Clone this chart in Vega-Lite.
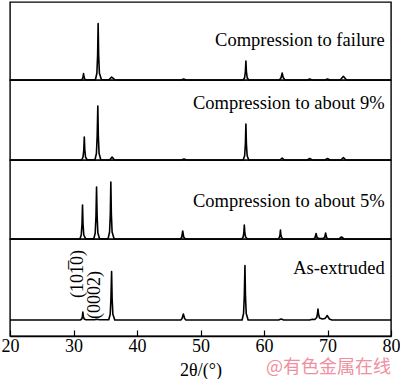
{
  "$schema": "https://vega.github.io/schema/vega-lite/v6.json",
  "padding": {"left": 0, "top": 1, "right": 0, "bottom": 0},
  "spacing": 0,
  "bounds": "flush",
  "resolve": {"scale": {"x": "independent", "y": "independent"}},
  "config": {
    "font": "Liberation Serif",
    "view": {"stroke": "#000000", "strokeWidth": 1.4},
    "line": {"color": "#000000", "strokeWidth": 1.6, "strokeJoin": "round"},
    "text": {"font": "Liberation Serif", "fontSize": 18.5, "color": "#000000"}
  },
  "datasets": {
    "one": [{"k": 1}],
    "failure": [
      {"x": 20, "y": 0},
      {"x": 31.15, "y": 0}, {"x": 31.38, "y": 0.8}, {"x": 31.5, "y": 2.9}, {"x": 31.58, "y": 6.5}, {"x": 31.66, "y": 2.9}, {"x": 31.78, "y": 0.8}, {"x": 32.0, "y": 0.3},
      {"x": 33.45, "y": 0.3}, {"x": 33.68, "y": 6.8}, {"x": 33.8, "y": 25}, {"x": 33.88, "y": 56.5}, {"x": 33.96, "y": 25}, {"x": 34.08, "y": 6.8}, {"x": 34.4, "y": 0.5},
      {"x": 35.6, "y": 0.2}, {"x": 36.0, "y": 3}, {"x": 36.5, "y": 0.3}, {"x": 37.2, "y": 0},
      {"x": 46.95, "y": 0}, {"x": 47.35, "y": 1}, {"x": 47.75, "y": 0},
      {"x": 56.72, "y": 0}, {"x": 56.95, "y": 2.3}, {"x": 57.07, "y": 8.5}, {"x": 57.15, "y": 19}, {"x": 57.23, "y": 8.5}, {"x": 57.35, "y": 2.3}, {"x": 57.6, "y": 0},
      {"x": 62.45, "y": 0}, {"x": 62.7, "y": 2.5}, {"x": 62.86, "y": 7}, {"x": 63.02, "y": 2.5}, {"x": 63.3, "y": 0},
      {"x": 66.8, "y": 0}, {"x": 67.2, "y": 1}, {"x": 67.6, "y": 0},
      {"x": 69.6, "y": 0}, {"x": 70.0, "y": 1}, {"x": 70.4, "y": 0},
      {"x": 72.0, "y": 0}, {"x": 72.5, "y": 3.7}, {"x": 73.0, "y": 0},
      {"x": 80, "y": 0}
    ],
    "p9": [
      {"x": 20, "y": 0},
      {"x": 31.27, "y": 0}, {"x": 31.5, "y": 2.8}, {"x": 31.62, "y": 10}, {"x": 31.7, "y": 23}, {"x": 31.78, "y": 10}, {"x": 31.9, "y": 2.8}, {"x": 32.15, "y": 0.3},
      {"x": 33.38, "y": 0.3}, {"x": 33.61, "y": 6.5}, {"x": 33.73, "y": 24}, {"x": 33.83, "y": 54}, {"x": 33.91, "y": 24}, {"x": 34.03, "y": 6.5}, {"x": 34.3, "y": 0.3},
      {"x": 35.7, "y": 0}, {"x": 36.08, "y": 3}, {"x": 36.45, "y": 0},
      {"x": 47.0, "y": 0}, {"x": 47.4, "y": 1}, {"x": 47.8, "y": 0},
      {"x": 56.72, "y": 0}, {"x": 56.95, "y": 4.3}, {"x": 57.07, "y": 16}, {"x": 57.15, "y": 36}, {"x": 57.23, "y": 16}, {"x": 57.35, "y": 4.3}, {"x": 57.6, "y": 0},
      {"x": 62.5, "y": 0}, {"x": 62.86, "y": 2}, {"x": 63.2, "y": 0},
      {"x": 66.8, "y": 0}, {"x": 67.2, "y": 1.5}, {"x": 67.6, "y": 0},
      {"x": 69.6, "y": 0}, {"x": 70.0, "y": 1.5}, {"x": 70.4, "y": 0},
      {"x": 72.1, "y": 0}, {"x": 72.5, "y": 2.5}, {"x": 72.9, "y": 0},
      {"x": 80, "y": 0}
    ],
    "p5": [
      {"x": 20, "y": 0},
      {"x": 31.0, "y": 0}, {"x": 31.22, "y": 4}, {"x": 31.34, "y": 15}, {"x": 31.42, "y": 34}, {"x": 31.5, "y": 15}, {"x": 31.62, "y": 4}, {"x": 31.9, "y": 0.3},
      {"x": 33.2, "y": 0.3}, {"x": 33.42, "y": 6}, {"x": 33.54, "y": 23}, {"x": 33.63, "y": 52}, {"x": 33.72, "y": 23}, {"x": 33.84, "y": 6}, {"x": 34.1, "y": 0.3},
      {"x": 35.45, "y": 0.3}, {"x": 35.68, "y": 7}, {"x": 35.8, "y": 25}, {"x": 35.88, "y": 57}, {"x": 35.96, "y": 25}, {"x": 36.08, "y": 7}, {"x": 36.4, "y": 0},
      {"x": 46.85, "y": 0}, {"x": 47.05, "y": 2}, {"x": 47.2, "y": 8}, {"x": 47.35, "y": 2}, {"x": 47.6, "y": 0},
      {"x": 56.5, "y": 0}, {"x": 56.72, "y": 2}, {"x": 56.82, "y": 6}, {"x": 56.9, "y": 14}, {"x": 56.98, "y": 6}, {"x": 57.1, "y": 2}, {"x": 57.4, "y": 0},
      {"x": 62.2, "y": 0}, {"x": 62.42, "y": 1.5}, {"x": 62.52, "y": 4}, {"x": 62.59, "y": 9}, {"x": 62.66, "y": 4}, {"x": 62.78, "y": 1.5}, {"x": 63.0, "y": 0},
      {"x": 67.8, "y": 0}, {"x": 68.05, "y": 1.5}, {"x": 68.2, "y": 5.5}, {"x": 68.35, "y": 1.5}, {"x": 68.6, "y": 0.5},
      {"x": 69.25, "y": 0.5}, {"x": 69.55, "y": 1.5}, {"x": 69.7, "y": 6}, {"x": 69.85, "y": 1.5}, {"x": 70.1, "y": 0},
      {"x": 71.8, "y": 0}, {"x": 72.2, "y": 2}, {"x": 72.6, "y": 0},
      {"x": 80, "y": 0}
    ],
    "ext": [
      {"x": 20, "y": 0},
      {"x": 31.05, "y": 0}, {"x": 31.3, "y": 1}, {"x": 31.4, "y": 3.6}, {"x": 31.47, "y": 8}, {"x": 31.55, "y": 3.6}, {"x": 31.68, "y": 1}, {"x": 31.95, "y": 0.3},
      {"x": 33.3, "y": 0.3}, {"x": 33.7, "y": 0.8}, {"x": 34.1, "y": 0.3},
      {"x": 35.55, "y": 0.3}, {"x": 35.78, "y": 5.8}, {"x": 35.9, "y": 22}, {"x": 36.0, "y": 48.5}, {"x": 36.08, "y": 22}, {"x": 36.2, "y": 5.8}, {"x": 36.5, "y": 0},
      {"x": 46.9, "y": 0}, {"x": 47.1, "y": 1.5}, {"x": 47.3, "y": 6}, {"x": 47.5, "y": 1.5}, {"x": 47.7, "y": 0},
      {"x": 56.55, "y": 0}, {"x": 56.78, "y": 6.5}, {"x": 56.9, "y": 24.5}, {"x": 57.0, "y": 54.5}, {"x": 57.08, "y": 24.5}, {"x": 57.2, "y": 6.5}, {"x": 57.5, "y": 0},
      {"x": 62.3, "y": 0}, {"x": 62.7, "y": 1}, {"x": 63.1, "y": 0},
      {"x": 67.2, "y": 0}, {"x": 67.6, "y": 0.8}, {"x": 68.0, "y": 0.5}, {"x": 68.3, "y": 2.5}, {"x": 68.42, "y": 6}, {"x": 68.5, "y": 11}, {"x": 68.58, "y": 6}, {"x": 68.75, "y": 2},
      {"x": 69.2, "y": 1}, {"x": 69.6, "y": 1.5}, {"x": 69.85, "y": 3.5}, {"x": 69.95, "y": 4.5}, {"x": 70.05, "y": 3.5}, {"x": 70.3, "y": 1}, {"x": 70.7, "y": 0},
      {"x": 80, "y": 0}
    ]
  },
  "vconcat": [
    {
      "width": 381, "height": 78,
      "layer": [
        {"data": {"name": "failure"}, "mark": "line", "encoding": {
          "x": {"field": "x", "type": "quantitative", "scale": {"domain": [20, 80], "nice": false}, "axis": null},
          "y": {"field": "y", "type": "quantitative", "scale": {"domain": [0, 78], "nice": false, "zero": false}, "axis": null}}},
        {"data": {"name": "one"}, "mark": {"type": "text", "text": "Compression to failure", "align": "right", "baseline": "alphabetic", "font": "Liberation Serif, Times New Roman, serif"},
         "encoding": {"x": {"datum": 79}, "y": {"datum": 34}}}
      ]
    },
    {
      "width": 381, "height": 80,
      "layer": [
        {"data": {"name": "p9"}, "mark": "line", "encoding": {
          "x": {"field": "x", "type": "quantitative", "scale": {"domain": [20, 80], "nice": false}, "axis": null},
          "y": {"field": "y", "type": "quantitative", "scale": {"domain": [0, 80], "nice": false, "zero": false}, "axis": null}}},
        {"data": {"name": "one"}, "mark": {"type": "text", "text": "Compression to about 9%", "align": "right", "baseline": "alphabetic", "font": "Liberation Serif, Times New Roman, serif"},
         "encoding": {"x": {"datum": 79}, "y": {"datum": 51}}}
      ]
    },
    {
      "width": 381, "height": 79,
      "layer": [
        {"data": {"name": "p5"}, "mark": "line", "encoding": {
          "x": {"field": "x", "type": "quantitative", "scale": {"domain": [20, 80], "nice": false}, "axis": null},
          "y": {"field": "y", "type": "quantitative", "scale": {"domain": [0, 79], "nice": false, "zero": false}, "axis": null}}},
        {"data": {"name": "one"}, "mark": {"type": "text", "text": "Compression to about 5%", "align": "right", "baseline": "alphabetic", "font": "Liberation Serif, Times New Roman, serif"},
         "encoding": {"x": {"datum": 79}, "y": {"datum": 32.5}}}
      ]
    },
    {
      "width": 381, "height": 97,
      "layer": [
        {"data": {"name": "ext"}, "mark": "line", "encoding": {
          "x": {"field": "x", "type": "quantitative", "scale": {"domain": [20, 80], "nice": false},
                "axis": {"title": "2θ/(°)", "values": [20, 30, 40, 50, 60, 70, 80], "grid": false, "tickSize": -6, "tickColor": "#000000", "tickWidth": 1.2, "domainColor": "#000000", "domainWidth": 1.4, "labelFont": "Liberation Serif, Times New Roman, serif", "labelFontSize": 18, "labelColor": "#000000", "labelPadding": 7, "labelFlush": false, "titleFont": "Liberation Serif, Times New Roman, serif", "titleFontSize": 18, "titleFontWeight": "normal", "titleColor": "#000000", "titlePadding": 6}},
          "y": {"field": "y", "type": "quantitative", "scale": {"domain": [-16, 81], "nice": false, "zero": false}, "axis": null}}},
        {"data": {"name": "one"}, "mark": {"type": "text", "text": "As-extruded", "align": "right", "baseline": "alphabetic", "font": "Liberation Serif, Times New Roman, serif"},
         "encoding": {"x": {"datum": 79}, "y": {"datum": 45.7}}},
        {"data": {"name": "one"}, "mark": {"type": "text", "text": "(101̅0)", "angle": 270, "align": "center", "baseline": "middle", "fontSize": 18, "font": "Liberation Serif, Times New Roman, serif"},
         "encoding": {"x": {"datum": 30.75}, "y": {"datum": 46}}},
        {"data": {"name": "one"}, "mark": {"type": "text", "text": "(0002)", "angle": 270, "align": "center", "baseline": "middle", "fontSize": 18, "font": "Liberation Serif, Times New Roman, serif"},
         "encoding": {"x": {"datum": 33.4}, "y": {"datum": 25}}},
        {"data": {"name": "one"}, "mark": {"type": "text", "text": "@有色金属在线", "align": "right", "baseline": "middle", "font": "Noto Sans CJK SC", "fontSize": 18, "color": "#f0909f"},
         "encoding": {"x": {"datum": 80}, "y": {"datum": -47.5}}}
      ]
    }
  ]
}
